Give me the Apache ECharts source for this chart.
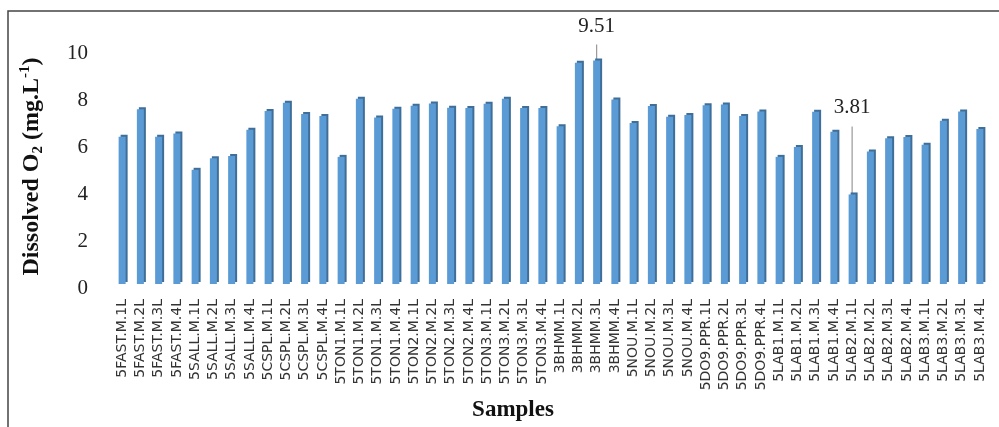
<!DOCTYPE html>
<html>
<head>
    <meta charset="utf-8" />
    <title>Dissolved O2</title>
    <script src="https://cdn.jsdelivr.net/npm/echarts@6/dist/echarts.min.js"></script>
</head>
<body style="margin:0">
    <div id="main" style="width:999px;height:427px"></div>
    <script>
        // sample names, 4 per site
        var samples = [
            '5FAST.M.1L', '5FAST.M.2L', '5FAST.M.3L', '5FAST.M.4L',
            '5SALL.M.1L', '5SALL.M.2L', '5SALL.M.3L', '5SALL.M.4L',
            '5CSPL.M.1L', '5CSPL.M.2L', '5CSPL.M.3L', '5CSPL.M.4L',
            '5TON1.M.1L', '5TON1.M.2L', '5TON1.M.3L', '5TON1.M.4L',
            '5TON2.M.1L', '5TON2.M.2L', '5TON2.M.3L', '5TON2.M.4L',
            '5TON3.M.1L', '5TON3.M.2L', '5TON3.M.3L', '5TON3.M.4L',
            '3BHMM.1L', '3BHMM.2L', '3BHMM.3L', '3BHMM.4L',
            '5NOU.M.1L', '5NOU.M.2L', '5NOU.M.3L', '5NOU.M.4L',
            '5DO9.PPR.1L', '5DO9.PPR.2L', '5DO9.PPR.3L', '5DO9.PPR.4L',
            '5LAB1.M.1L', '5LAB1.M.2L', '5LAB1.M.3L', '5LAB1.M.4L',
            '5LAB2.M.1L', '5LAB2.M.2L', '5LAB2.M.3L', '5LAB2.M.4L',
            '5LAB3.M.1L', '5LAB3.M.2L', '5LAB3.M.3L', '5LAB3.M.4L'
        ];

        // dissolved O2 (mg/L)
        var oxygen = [
            6.27, 7.44, 6.27, 6.40, 4.86, 5.35, 5.45, 6.56, 7.36, 7.71, 7.23, 7.15,
            5.41, 7.88, 7.09, 7.46, 7.58, 7.68, 7.50, 7.49, 7.67, 7.88, 7.49, 7.49,
            6.71, 9.41, 9.51, 7.85, 6.85, 7.57, 7.12, 7.19, 7.61, 7.64, 7.15, 7.34,
            5.41, 5.83, 7.33, 6.48, 3.81, 5.64, 6.20, 6.26, 5.93, 6.95, 7.34, 6.60
        ];

        var yTicks = [0, 2, 4, 6, 8, 10];

        // bars that carry a value label (max and min)
        var labelled = ['3BHMM.3L', '5LAB2.M.1L'];

        var barData = oxygen.map(function (v, i) {
            if (labelled.indexOf(samples[i]) >= 0)
                return { value: v, label: { show: true } };
            return v;
        });

        var myChart = echarts.init(document.getElementById('main'));

        var option = {
            animation: false,
            grid: { left: 113, right: 10, top: 49, bottom: 143 },
            graphic: [
                {
                    type: 'rect', z: -1,
                    shape: { x: 8, y: 11, width: 1200, height: 1000 },
                    style: { fill: 'none', stroke: '#444', lineWidth: 1.5 }
                },
                {
                    type: 'text', x: 513, y: 410,
                    style: {
                        text: 'Samples', fill: '#111',
                        font: 'bold 23px "Liberation Serif"',
                        align: 'center', verticalAlign: 'middle'
                    }
                }
            ],
            xAxis: {
                type: 'category',
                data: samples,
                axisLine: { show: false },
                axisTick: { show: false },
                axisLabel: {
                    interval: 0, rotate: 90, margin: 15,
                    fontFamily: 'DejaVu Sans', fontSize: 14, color: '#333'
                }
            },
            yAxis: {
                type: 'value',
                min: yTicks[0], max: yTicks[yTicks.length - 1], interval: 2,
                splitLine: { show: false },
                axisLine: { show: false },
                axisTick: { show: false },
                axisLabel: {
                    margin: 25, fontFamily: 'Liberation Serif', fontSize: 21,
                    color: '#222', verticalAlign: 'top', lineHeight: 8
                },
                name: '{a|Dissolved O}{s|2}{a| (mg.L}{p|-1}{a|)}',
                nameLocation: 'middle',
                nameRotate: 90,
                nameGap: 67,
                nameTextStyle: {
                    rich: {
                        a: { fontFamily: 'Liberation Serif', fontWeight: 'bold', fontSize: 24, color: '#111', lineHeight: 28 },
                        s: { fontFamily: 'Liberation Serif', fontWeight: 'bold', fontSize: 15, color: '#111', lineHeight: 15, verticalAlign: 'bottom' },
                        p: { fontFamily: 'Liberation Serif', fontWeight: 'bold', fontSize: 15, color: '#111', lineHeight: 15, verticalAlign: 'top' }
                    }
                }
            },
            series: [{
                type: 'bar',
                data: barData,
                barWidth: 7,
                itemStyle: {
                    color: '#5B9BD5',
                    shadowColor: '#3F6E99',
                    shadowOffsetX: 2,
                    shadowOffsetY: -2,
                    shadowBlur: 0
                },
                label: {
                    show: false,
                    position: 'top',
                    distance: 5,
                    fontFamily: 'Liberation Serif',
                    fontSize: 21,
                    color: '#222',
                    backgroundColor: 'rgba(255,255,255,0)',
                    padding: [0, 0, 8, 0]
                },
                labelLine: {
                    show: true,
                    lineStyle: { color: '#999', width: 1.2 }
                },
                labelLayout: function (p) {
                    if (p.dataIndex === 26) return { dy: -11 };
                    if (p.dataIndex === 40) return { dy: -63 };
                    return {};
                }
            }]
        };

        myChart.setOption(option);
    </script>
</body>
</html>
